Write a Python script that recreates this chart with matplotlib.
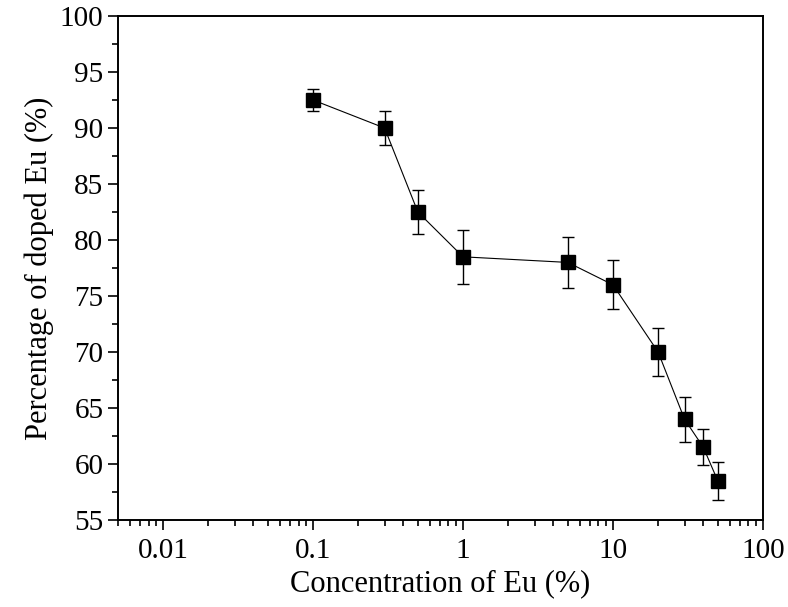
import numpy as np
import matplotlib.pyplot as plt
from matplotlib.ticker import LogLocator, FixedLocator, MultipleLocator, FuncFormatter

plt.rcParams['font.family'] = ['Liberation Serif', 'DejaVu Serif']
plt.rcParams['mathtext.fontset'] = 'stix'

# data
conc  = [0.1, 0.3, 0.5, 1, 5, 10, 20, 30, 40, 50]
doped = [92.5, 90.0, 82.5, 78.5, 78.0, 76.0, 70.0, 64.0, 61.5, 58.5]
err   = [1.0, 1.5, 2.0, 2.4, 2.3, 2.2, 2.1, 2.0, 1.6, 1.7]

x_ticks = [0.01, 0.1, 1, 10, 100]
x_labels = ['0.01', '0.1', '1', '10', '100']

fig = plt.figure(figsize=(7.88, 6.07), dpi=100)
ax = fig.add_axes([0.1497, 0.1433, 0.8185, 0.8303])

ax.errorbar(conc, doped, yerr=err, fmt='s-', color='black', ms=9.5, lw=0.8,
            elinewidth=1.0, capsize=4, capthick=1.0)

ax.set_xscale('log')
ax.set_xlim(0.005, 100)
ax.set_ylim(55, 100)
ax.xaxis.set_major_locator(FixedLocator(x_ticks))
ax.xaxis.set_major_formatter(FuncFormatter(lambda v, p: x_labels[x_ticks.index(v)] if v in x_ticks else ''))
ax.xaxis.set_minor_locator(LogLocator(base=10, subs=np.arange(2, 10), numticks=20))
ax.xaxis.set_minor_formatter(FuncFormatter(lambda v, p: ''))
ax.yaxis.set_major_locator(MultipleLocator(5))
ax.yaxis.set_minor_locator(MultipleLocator(2.5))

ax.tick_params(which='both', direction='out', top=False, right=False, labelsize=21, width=1.2)
ax.tick_params(which='major', length=7)
ax.tick_params(which='minor', length=4)
ax.tick_params(axis='x', which='major', pad=6)
for s in ax.spines.values():
    s.set_linewidth(1.4)

ax.set_xlabel('Concentration of Eu (%)', fontsize=22, labelpad=4)
ax.set_ylabel('Percentage of doped Eu (%)', fontsize=22, labelpad=4)

fig.savefig('out.png', dpi=100)
